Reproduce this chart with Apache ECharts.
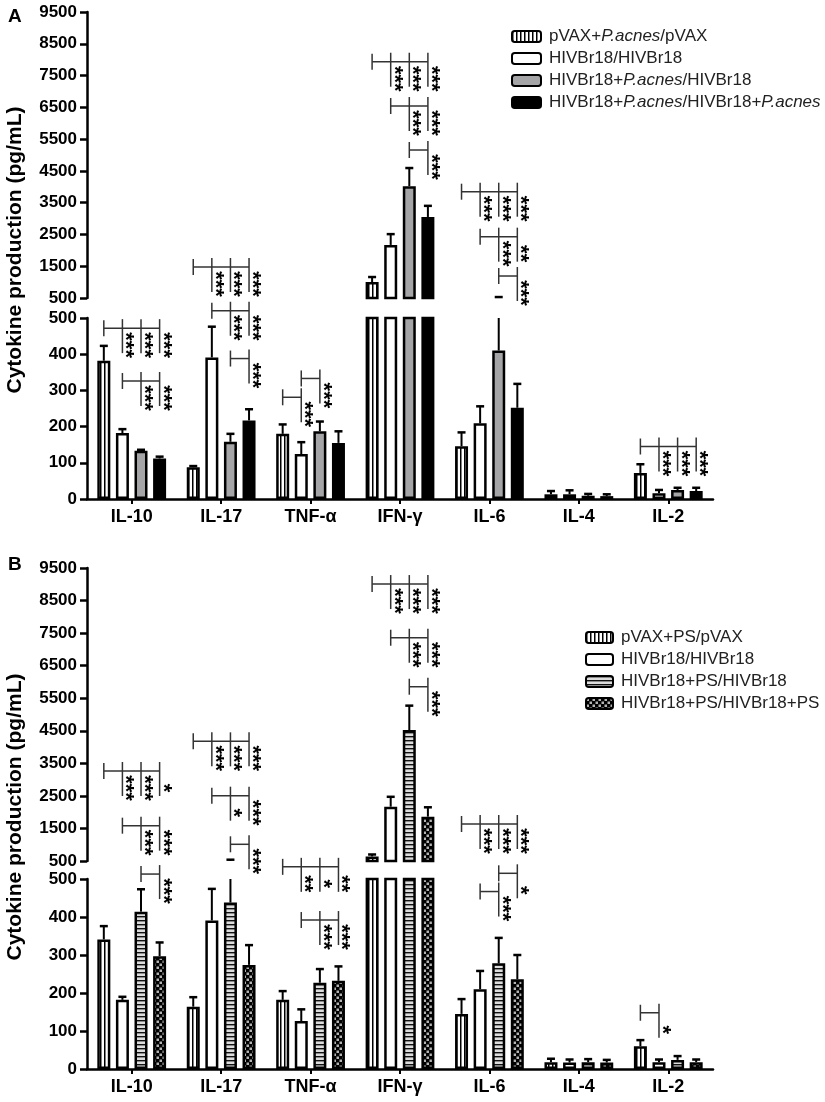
<!DOCTYPE html>
<html>
<head>
<meta charset="utf-8">
<title>Cytokine production</title>
<script src="https://cdn.jsdelivr.net/npm/echarts@6/dist/echarts.min.js"></script>
<style>
  html, body { margin: 0; padding: 0; background: #fff; }
  #main { width: 825px; height: 1102px; }
</style>
</head>
<body>
<div id="main"></div>
<script>
// categories and axis ticks
var CATS = ['IL-10', 'IL-17', 'TNF-α', 'IFN-γ', 'IL-6', 'IL-4', 'IL-2']
var LOWER_TICKS = [0, 100, 200, 300, 400, 500]
var UPPER_TICKS = [500, 1500, 2500, 3500, 4500, 5500, 6500, 7500, 8500, 9500]
var BREAK = 500

// panel A (P. acnes)
var NAMES_A = ['pVAX+P.acnes/pVAX', 'HIVBr18/HIVBr18', 'HIVBr18+P.acnes/HIVBr18', 'HIVBr18+P.acnes/HIVBr18+P.acnes']
var A_PVAX = [382, 88, 180, 1000, 146, 13, 72]
var A_PVAX_SEM = [41, 3, 26, 160, 38, 9, 24]
var A_HIV = [182, 391, 124, 2170, 209, 13, 16]
var A_HIV_SEM = [11, 85, 33, 340, 47, 11, 9]
var A_HIV_PA = [133, 158, 187, 4020, 410, 9, 25]
var A_HIV_PA_SEM = [3, 22, 27, 570, 120, 5, 6]
var A_HIV_PA2 = [112, 217, 155, 3050, 252, 8, 22]
var A_HIV_PA2_SEM = [5, 31, 32, 350, 66, 5, 9]

// panel B (PS)
var NAMES_B = ['pVAX+PS/pVAX', 'HIVBr18/HIVBr18', 'HIVBr18+PS/HIVBr18', 'HIVBr18+PS/HIVBr18+PS']
var B_PVAX = [341, 164, 182, 640, 145, 18, 60]
var B_PVAX_SEM = [35, 25, 23, 60, 39, 9, 16]
var B_HIV = [182, 391, 126, 2168, 210, 17, 18]
var B_HIV_SEM = [8, 83, 31, 304, 48, 8, 7]
var B_HIV_PS = [414, 438, 227, 4523, 278, 18, 24]
var B_HIV_PS_SEM = [59, 102, 36, 749, 67, 8, 10]
var B_HIV_PS2 = [297, 274, 232, 1861, 236, 17, 18]
var B_HIV_PS2_SEM = [36, 52, 38, 289, 64, 7, 7]

// significance brackets: [category, height, reference bar, [[bar, stars], ...]]
var BR_A_LO = [
  [0, 472, 0, [[1, '***'], [2, '***'], [3, '***']]],
  [0, 326, 1, [[2, '***'], [3, '***']]],
  [1, 520, 1, [[2, '***'], [3, '***']]],
  [1, 388, 2, [[3, '***']]],
  [2, 281, 0, [[1, '***']]],
  [2, 333, 1, [[2, '***']]],
  [6, 145, 0, [[1, '***'], [2, '***'], [3, '***']]]
]
var BR_A_HI = [
  [1, 1475, 0, [[1, '***'], [2, '***'], [3, '***']]],
  [3, 7935, 0, [[1, '***'], [2, '***'], [3, '***']]],
  [3, 6541, 1, [[2, '***'], [3, '***']]],
  [3, 5157, 2, [[3, '***']]],
  [4, 3845, 0, [[1, '***'], [2, '***'], [3, '***']]],
  [4, 2430, 1, [[2, '***'], [3, '**']]],
  [4, 1192, 2, [[3, '***']]]
]
var BR_B_LO = [
  [0, 513, 2, [[3, '***']]],
  [2, 532, 0, [[1, '**'], [2, '*'], [3, '**']]],
  [2, 392, 1, [[2, '***'], [3, '***']]],
  [4, 515, 2, [[3, '*']]],
  [4, 467, 1, [[2, '***']]],
  [6, 148, 0, [[1, '*']]]
]
var BR_B_HI = [
  [0, 3264, 0, [[1, '***'], [2, '***'], [3, '*']]],
  [0, 1585, 1, [[2, '***'], [3, '***']]],
  [1, 4176, 0, [[1, '***'], [2, '***'], [3, '***']]],
  [1, 2506, 1, [[2, '*'], [3, '***']]],
  [1, 1013, 2, [[3, '***']]],
  [3, 9007, 0, [[1, '***'], [2, '***'], [3, '***']]],
  [3, 7358, 1, [[2, '***'], [3, '***']]],
  [3, 5853, 2, [[3, '***']]],
  [4, 1636, 0, [[1, '***'], [2, '***'], [3, '***']]]
]

var FONT = '"Liberation Sans", Arial, sans-serif'
var BAR_W = 13
var BAR_STEP = 18.6 // width + gap between neighbouring bars

function pattern (w, h, draw) {
  var c = document.createElement('canvas')
  c.width = w
  c.height = h
  draw(c.getContext('2d'))
  return { image: c, repeat: 'repeat' }
}
var VSTRIPE = pattern(4, 4, function (ctx) {
  ctx.fillStyle = '#fff'; ctx.fillRect(0, 0, 4, 4)
  ctx.fillStyle = '#000'; ctx.fillRect(0, 0, 1.5, 4)
})
var HSTRIPE = pattern(4, 4, function (ctx) {
  ctx.fillStyle = '#dcdcdc'; ctx.fillRect(0, 0, 4, 4)
  ctx.fillStyle = '#111'; ctx.fillRect(0, 0, 4, 1.4)
})
var CHECKER = pattern(6, 6, function (ctx) {
  ctx.fillStyle = '#000'; ctx.fillRect(0, 0, 6, 6)
  ctx.fillStyle = '#b4b4b4'; ctx.fillRect(0.5, 0.5, 2.5, 2.5); ctx.fillRect(3.5, 3.5, 2.5, 2.5)
})
var FILLS_A = [VSTRIPE, '#fff', '#a5a5a7', '#000']
var FILLS_B = [VSTRIPE, '#fff', HSTRIPE, CHECKER]

// grids: 0 A upper, 1 A lower, 2 B upper, 3 B lower
var GRIDS = [
  { left: 87, width: 626, top: 12, height: 286 },
  { left: 87, width: 626, top: 318, height: 181 },
  { left: 87, width: 626, top: 568, height: 293 },
  { left: 87, width: 626, top: 879, height: 190 }
]

function errItem (isUpper) {
  return function (params, api) {
    var cat = api.value(0)
    var k = api.value(1)
    var v = api.value(2)
    var top = v + api.value(3)
    var lo, hi, cap
    if (isUpper) {
      if (top <= BREAK) return
      lo = Math.max(v, BREAK); hi = top; cap = true
    } else {
      if (v >= BREAK) return
      lo = v; hi = Math.min(top, BREAK); cap = top <= BREAK
    }
    var p0 = api.coord([cat, lo])
    var p1 = api.coord([cat, hi])
    var x = p0[0] + (k - 1.5) * BAR_STEP
    var ch = [{ type: 'line', shape: { x1: x, y1: p0[1], x2: x, y2: p1[1] }, style: { stroke: '#000', lineWidth: 2 } }]
    if (cap) ch.push({ type: 'line', shape: { x1: x - 4, y1: p1[1], x2: x + 4, y2: p1[1] }, style: { stroke: '#000', lineWidth: 2.5 } })
    return { type: 'group', children: ch }
  }
}

function bracketItem (list) {
  return function (params, api) {
    var b = list[params.dataIndex]
    var p = api.coord([b[0], b[1]])
    var cx = p[0]
    var y = p[1]
    var marks = b[3]
    var x0 = cx + (b[2] - 1.5) * BAR_STEP
    var x1 = cx + (marks[marks.length - 1][0] - 1.5) * BAR_STEP
    var ls = { stroke: '#333', lineWidth: 1.5 }
    var ch = [
      { type: 'line', shape: { x1: x0, y1: y, x2: x1, y2: y }, style: ls },
      { type: 'line', shape: { x1: x0, y1: y - 8, x2: x0, y2: y + 8 }, style: ls }
    ]
    marks.forEach(function (m) {
      var x = cx + (m[0] - 1.5) * BAR_STEP
      ch.push({ type: 'line', shape: { x1: x, y1: y - 9, x2: x, y2: y + 25 }, style: ls })
      ch.push({
        type: 'text', x: x + 3, y: y + 17, rotation: -Math.PI / 2,
        style: { text: m[1], fill: '#000', font: 'bold 22px ' + FONT, align: 'center', verticalAlign: 'middle' }
      })
    })
    return { type: 'group', children: ch }
  }
}

function panelSeries (hiIdx, loIdx, names, fills, vals, sems, brLo, brHi) {
  var out = []
  var errData = []
  names.forEach(function (name, s) {
    var style = { color: fills[s], borderColor: '#000', borderWidth: 2.5 }
    out.push({
      type: 'bar', name: name, xAxisIndex: loIdx, yAxisIndex: loIdx, data: vals[s],
      barWidth: BAR_W, barGap: '43%', itemStyle: style, clip: true, silent: true
    })
    out.push({
      type: 'bar', name: name, xAxisIndex: hiIdx, yAxisIndex: hiIdx,
      data: vals[s].map(function (v) { return v > BREAK ? v : '-' }),
      barWidth: BAR_W, barGap: '43%', itemStyle: style, clip: true, silent: true
    })
    vals[s].forEach(function (v, c) { errData.push([c, s, v, sems[s][c]]) })
  })
  out.push({ type: 'custom', xAxisIndex: loIdx, yAxisIndex: loIdx, renderItem: errItem(false), data: errData, encode: { x: 0, y: 2 }, silent: true, z: 3 })
  out.push({ type: 'custom', xAxisIndex: hiIdx, yAxisIndex: hiIdx, renderItem: errItem(true), data: errData, encode: { x: 0, y: 2 }, silent: true, z: 3 })
  out.push({ type: 'custom', xAxisIndex: loIdx, yAxisIndex: loIdx, renderItem: bracketItem(brLo), data: brLo.map(function (b) { return [b[0], b[1]] }), silent: true, z: 4 })
  out.push({ type: 'custom', xAxisIndex: hiIdx, yAxisIndex: hiIdx, renderItem: bracketItem(brHi), data: brHi.map(function (b) { return [b[0], b[1]] }), silent: true, z: 4 })
  return out
}

var axisLine = { show: true, lineStyle: { color: '#000', width: 2.5 } }
var axisLabel = { color: '#000', fontFamily: FONT, fontWeight: 'bold', fontSize: 17, margin: 10 }

function xAxisFor (i, visible) {
  return {
    type: 'category', gridIndex: i, data: CATS, show: visible, boundaryGap: true,
    axisLine: axisLine,
    axisTick: { show: true, alignWithLabel: true, length: 5, lineStyle: { color: '#000', width: 2 } },
    axisLabel: Object.assign({}, axisLabel, { interval: 0, margin: 9, fontSize: 18 })
  }
}
function yAxisFor (i, upper) {
  var ax = {
    type: 'value', gridIndex: i, splitLine: { show: false }, axisLine: axisLine,
    axisTick: { show: true, length: 7, lineStyle: { color: '#000', width: 2.5 } },
    axisLabel: Object.assign({}, axisLabel, { formatter: function (v) { return String(v) } })
  }
  if (upper) {
    ax.min = 500; ax.max = 9500
    ax.axisTick.customValues = UPPER_TICKS
    ax.axisLabel.customValues = UPPER_TICKS
  } else {
    ax.min = 0; ax.max = 500; ax.interval = 100
  }
  return ax
}

function legendName (name) {
  return name.split('P.acnes').map(function (s) { return s ? '{n|' + s + '}' : '' }).join('{i|P.acnes}')
}
function legendFor (names, left, top, w) {
  return {
    data: names, orient: 'vertical', left: left, top: top, itemWidth: w, itemHeight: 11, itemGap: 5,
    icon: 'roundRect', selectedMode: false, formatter: legendName,
    textStyle: {
      padding: [0, 0, 0, 3],
      rich: {
        n: { fontFamily: FONT, fontSize: 17, color: '#222' },
        i: { fontFamily: FONT, fontSize: 17, color: '#222', fontStyle: 'italic' }
      }
    }
  }
}

var chart = echarts.init(document.getElementById('main'), null, { renderer: 'canvas' })
var option = {
  backgroundColor: '#fff',
  animation: false,
  grid: GRIDS,
  xAxis: [xAxisFor(0, false), xAxisFor(1, true), xAxisFor(2, false), xAxisFor(3, true)],
  yAxis: [yAxisFor(0, true), yAxisFor(1, false), yAxisFor(2, true), yAxisFor(3, false)],
  legend: [legendFor(NAMES_A, 506, 23, 29), legendFor(NAMES_B, 580, 624, 27)],
  graphic: [
    { type: 'text', left: 8, top: 7, style: { text: 'A', font: 'bold 19px ' + FONT, fill: '#000' } },
    { type: 'text', left: 8, top: 555, style: { text: 'B', font: 'bold 19px ' + FONT, fill: '#000' } },
    { type: 'text', x: 15, y: 250, rotation: Math.PI / 2, style: { text: 'Cytokine production (pg/mL)', font: 'bold 21px ' + FONT, fill: '#000', align: 'center', verticalAlign: 'middle' } },
    { type: 'text', x: 15, y: 817, rotation: Math.PI / 2, style: { text: 'Cytokine production (pg/mL)', font: 'bold 21px ' + FONT, fill: '#000', align: 'center', verticalAlign: 'middle' } }
  ],
  series: [].concat(
    panelSeries(0, 1, NAMES_A, FILLS_A,
      [A_PVAX, A_HIV, A_HIV_PA, A_HIV_PA2], [A_PVAX_SEM, A_HIV_SEM, A_HIV_PA_SEM, A_HIV_PA2_SEM], BR_A_LO, BR_A_HI),
    panelSeries(2, 3, NAMES_B, FILLS_B,
      [B_PVAX, B_HIV, B_HIV_PS, B_HIV_PS2], [B_PVAX_SEM, B_HIV_SEM, B_HIV_PS_SEM, B_HIV_PS2_SEM], BR_B_LO, BR_B_HI)
  )
}
chart.setOption(option)
</script>
</body>
</html>
